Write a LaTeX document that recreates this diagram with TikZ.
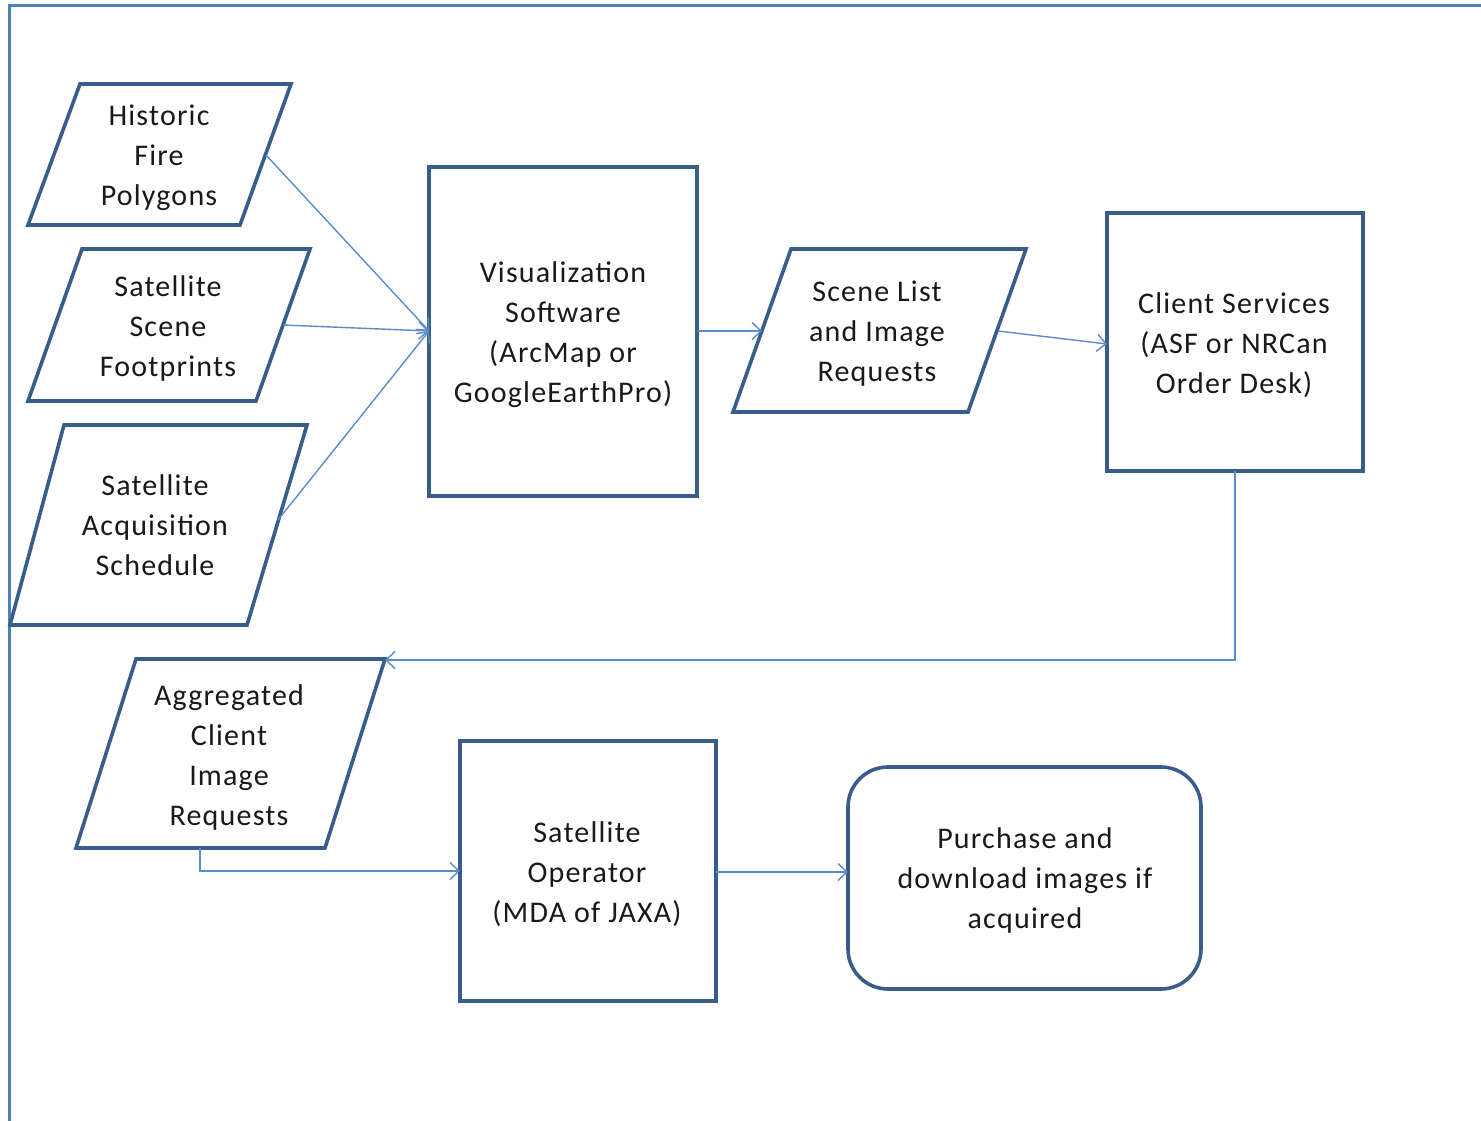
\documentclass[tikz,border=0pt]{standalone}
\usepackage{fontspec}
\setmainfont{Carlito}[LetterSpace=4]
\usetikzlibrary{arrows.meta}
\definecolor{frameblue}{RGB}{79,129,189}
\definecolor{shapeblue}{RGB}{56,93,138}
\definecolor{linkblue}{RGB}{91,139,200}
\definecolor{txt}{RGB}{25,25,25}
\tikzset{
  shapeline/.style={draw=shapeblue, line width=3.6pt, line join=miter},
  lbl/.style={align=center, text=txt, font=\fontsize{30pt}{40pt}\selectfont, inner sep=0pt, yshift=-3pt},
  link/.style={draw=linkblue, line width=1.4pt, -{Straight Barb[length=9pt,width=17pt,line width=1.4pt]}},
}
\begin{document}
\begin{tikzpicture}[x=1pt,y=-1pt]
\useasboundingbox (0,0) rectangle (1481,1121);
% outer frame (top and left edges)
\draw[frameblue, line width=3pt] (9,1121) -- (9,6) -- (1481,6);

% input data parallelograms
\draw[shapeline] (80,84) -- (291,84) -- (240,225) -- (28,225) -- cycle;
\node[lbl] (hist) at (159,155) {Historic\\Fire\\Polygons};
\coordinate (hist-e) at (266,155);

\draw[shapeline] (82,249) -- (310,249) -- (256,401) -- (28,401) -- cycle;
\node[lbl] (foot) at (168,326) {Satellite\\Scene\\Footprints};
\coordinate (foot-e) at (283,325);

\draw[shapeline] (64,425) -- (307,425) -- (247,625) -- (10,625) -- cycle;
\node[lbl] (sched) at (155,522) {Satellite\\Acquisition\\Schedule};
\coordinate (sched-e) at (278,520);

% visualization software
\draw[shapeline] (429,167) rectangle (697,496);
\node[lbl] (vis) at (563,332) {Visualization\\Software\\(ArcMap or\\GoogleEarthPro)};
\coordinate (vis-w) at (429,331);
\coordinate (vis-e) at (697,331);

% scene list output
\draw[shapeline] (791,249) -- (1026,249) -- (968,412) -- (733,412) -- cycle;
\node[lbl] (list) at (877,331) {Scene List\\and Image\\Requests};
\coordinate (list-w) at (762,331);
\coordinate (list-e) at (998,331);

% client services
\draw[shapeline] (1107,213) rectangle (1363,471);
\node[lbl] (client) at (1234,342) {Client Services\\(ASF or NRCan\\Order Desk)};
\coordinate (client-w) at (1107,344);
\coordinate (client-s) at (1235,471);

% aggregated requests
\draw[shapeline] (136,659) -- (385,659) -- (325,848) -- (76,848) -- cycle;
\node[lbl] (agg) at (229,754) {Aggregated\\Client\\Image\\Requests};
\coordinate (agg-ne) at (385,660);
\coordinate (agg-s) at (200,848);

% satellite operator
\draw[shapeline] (460,741) rectangle (716,1001);
\node[lbl] (oper) at (587,871) {Satellite\\Operator\\(MDA of JAXA)};
\coordinate (oper-w) at (460,871);
\coordinate (oper-e) at (716,872);

% final step
\draw[shapeline, rounded corners=40pt] (848,767) rectangle (1201,989);
\node[lbl] (buy) at (1025,877) {Purchase and\\download images if\\acquired};
\coordinate (buy-w) at (848,872);

% connectors
\draw[link] (hist-e) -- (vis-w);
\draw[link] (foot-e) -- (vis-w);
\draw[link] (sched-e) -- (vis-w);
\draw[link] (vis-e) -- (list-w);
\draw[link] (list-e) -- (client-w);
\draw[link] (client-s) |- (agg-ne);
\draw[link] (agg-s) |- (oper-w);
\draw[link] (oper-e) -- (buy-w);
\end{tikzpicture}
\end{document}
